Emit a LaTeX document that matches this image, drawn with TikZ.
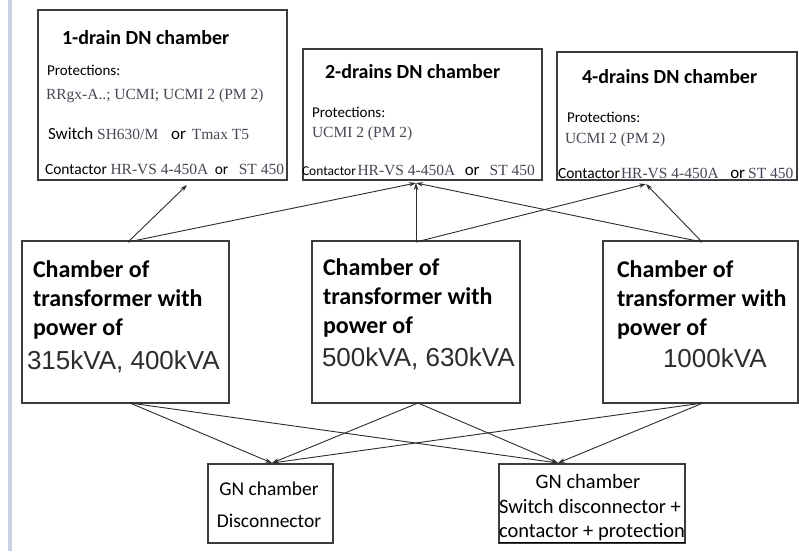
\documentclass[tikz,border=0pt]{standalone}
\usepackage{fontspec}
\setmainfont{Carlito}
\newfontfamily\tnr{Liberation Serif}
\newfontfamily\arl{Liberation Sans}
\usetikzlibrary{arrows.meta}
\definecolor{edgec}{RGB}{60,60,60}
\definecolor{linec}{RGB}{45,45,45}
\definecolor{serifgray}{RGB}{75,70,85}
\definecolor{numgray}{RGB}{45,45,45}
\definecolor{barblue}{RGB}{200,210,226}
\newcommand\srf[1]{{\tnr\fontsize{15.5}{18}\selectfont\color{serifgray}#1}}
\begin{document}
\begin{tikzpicture}[x=1pt,y=-1pt,
  box/.style={draw=edgec, line width=1.2pt, fill=white, inner sep=0pt},
  txt/.style={anchor=base west, inner sep=0pt, outer sep=0pt},
  ctxt/.style={anchor=base, inner sep=0pt, outer sep=0pt},
  head/.style={font=\bfseries\fontsize{20}{24}\selectfont},
  prot/.style={font=\fontsize{15}{18}\selectfont},
  big/.style={font=\bfseries\fontsize{24}{29}\selectfont},
  num/.style={font=\arl\fontsize{26}{30}\selectfont, text=numgray},
  gn/.style={font=\fontsize{19.5}{24}\selectfont},
  gnb/.style={font=\fontsize{20.5}{24}\selectfont},
  conn/.style={draw=linec, line width=0.9pt, -{Stealth[length=7pt,width=4.5pt]}}]
\useasboundingbox (0,0) rectangle (799,551);
\fill[white] (0,0) rectangle (799,551);
\fill[barblue] (8,0) rectangle (12,551);

% top boxes
\node[box, minimum width=249pt, minimum height=170pt] (d1) at (162.5,95) {};
\node[box, minimum width=239pt, minimum height=131pt] (d2) at (422.5,114.5) {};
\node[box, minimum width=240pt, minimum height=128pt] (d3) at (677,116) {};

\node[txt, head] (d1t) at (62,45) {1-drain DN chamber};
\node[txt, prot] (d1p) at (47,75) {Protections:};
\node[txt] (d1r) at (46,99) {\srf{RRgx-A..; UCMI; UCMI 2 (PM 2)}};
\node[txt, font=\fontsize{17}{20}\selectfont] (d1s) at (48,139) {Switch \srf{SH630/M}\hspace{9pt} or\hspace{2pt} \srf{Tmax T5}};
\node[txt, font=\fontsize{15.5}{18}\selectfont] (d1c) at (45,174) {Contactor \srf{HR-VS 4-450A}\hspace{3pt} or\hspace{7pt} \srf{ST 450}};

\node[txt, head] (d2t) at (325,78) {2-drains DN chamber};
\node[txt, prot] (d2p) at (312,117) {Protections:};
\node[txt] (d2u) at (312,137) {\srf{UCMI 2 (PM 2)}};
\node[txt, font=\fontsize{15.5}{18}\selectfont] (d2c) at (302,175) {{\fontsize{13.5}{16}\selectfont Contactor}\hspace{1.5pt}\srf{HR-VS 4-450A}\hspace{6pt} {\fontsize{17}{18}\selectfont or}\hspace{10pt}\srf{ST 450}};

\node[txt, head] (d3t) at (582,83) {4-drains DN chamber};
\node[txt, prot] (d3p) at (567,122) {Protections:};
\node[txt] (d3u) at (565,143) {\srf{UCMI 2 (PM 2)}};
\node[txt, font=\fontsize{15.5}{18}\selectfont] (d3c) at (558,178) {Contactor\hspace{1pt}\srf{\underline{HR-VS 4-450A}}\hspace{8pt} {\fontsize{17}{18}\selectfont or}\hspace{3pt}\srf{\underline{ST 450}}};

% transformer boxes
\node[box, minimum width=207pt, minimum height=162pt] (tA) at (125.5,322) {};
\node[box, minimum width=208pt, minimum height=162pt] (tB) at (416,322) {};
\node[box, minimum width=195pt, minimum height=162pt] (tC) at (700.5,322) {};

\node[txt, big] (tA1) at (33,277) {Chamber of};
\node[txt, big] (tA2) at (33,306) {transformer with};
\node[txt, big] (tA3) at (33,335) {power of};
\node[txt, num] (tA4) at (27,369) {315kVA, 400kVA};

\node[txt, big] (tB1) at (323,275) {Chamber of};
\node[txt, big] (tB2) at (323,304) {transformer with};
\node[txt, big] (tB3) at (323,333) {power of};
\node[txt, num] (tB4) at (322,366) {500kVA, 630kVA};

\node[txt, big] (tC1) at (617,277) {Chamber of};
\node[txt, big] (tC2) at (617,306) {transformer with};
\node[txt, big] (tC3) at (617,335) {power of};
\node[txt, num] (tC4) at (663,367) {1000kVA};

% GN boxes
\node[box, minimum width=125pt, minimum height=79pt] (g1) at (270.5,503.5) {};
\node[box, minimum width=186pt, minimum height=79pt] (g2) at (592,503.5) {};

\node[ctxt, gn] (g1a) at (269,495) {GN chamber};
\node[ctxt, gn] (g1b) at (269,527) {Disconnector};
\node[ctxt, gnb] (g2a) at (588,488) {GN chamber};
\node[txt, gnb] (g2b) at (499,513) {Switch disconnector +};
\node[txt, gnb] (g2c) at (499,537) {\underline{contactor + protection}};

% attachment points
\coordinate (At) at (128,242);
\coordinate (Bt) at (416,242);
\coordinate (Ct) at (702,242);
\coordinate (Ab) at (130,403);
\coordinate (Bb) at (418,403);
\coordinate (Cb) at (703,403);
\coordinate (d1in) at (187,185);
\coordinate (d2in) at (416,183);
\coordinate (d3in) at (646,184);
\coordinate (g1in) at (272,463);
\coordinate (g2in) at (558,463);

\draw[conn] (At) -- (d1in);
\draw[conn] (At) -- (d2in);
\draw[conn] (Bt) -- (d2in);
\draw[conn] (Bt) -- (d3in);
\draw[conn] (Ct) -- (d3in);
\draw[conn] (Ct) -- (d2in);

\draw[conn] (Ab) -- (g1in);
\draw[conn] (Ab) -- (g2in);
\draw[conn] (Bb) -- (g1in);
\draw[conn] (Bb) -- (g2in);
\draw[conn] (Cb) -- (g1in);
\draw[conn] (Cb) -- (g2in);
\end{tikzpicture}
\end{document}
